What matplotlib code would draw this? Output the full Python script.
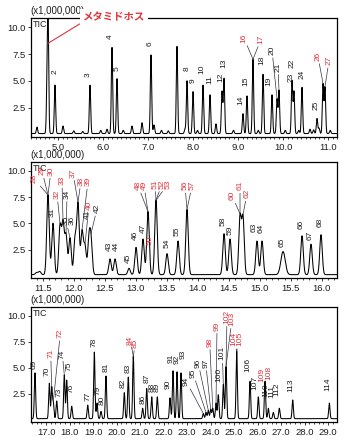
import numpy as np
import matplotlib
matplotlib.use("Agg")
import matplotlib.pyplot as plt
from matplotlib.ticker import MultipleLocator, FormatStrFormatter

plt.rcParams['font.family'] = ['Liberation Sans', 'DejaVu Sans']

# ---------------- data: panel 1 (retention time [min], height [x1,000,000]) -------------
rt1 = [4.533, 4.756, 4.778, 4.933, 5.111, 5.35, 5.55, 5.711, 5.95, 6.089, 6.2, 6.311, 6.45,
       6.644, 6.867, 7.067, 7.133, 7.3, 7.45, 7.644, 7.822, 7.867, 8.0, 8.1, 8.222, 8.378,
       8.511, 8.644, 8.689, 8.9, 9.111, 9.2, 9.333, 9.45, 9.556, 9.756, 9.867, 9.911, 10.05,
       10.2, 10.244, 10.35, 10.422, 10.6, 10.68, 10.756, 10.8, 10.889, 10.933, 11.05]
h1 = [0.6, 3.5, 10.9, 4.5, 0.7, 0.25, 0.2, 4.5, 0.3, 0.4, 8.0, 5.1, 0.3,
      0.7, 1.0, 7.3, 0.8, 0.3, 0.25, 8.1, 0.4, 4.9, 3.9, 0.3, 4.5, 3.6,
      0.9, 3.9, 5.1, 0.3, 1.85, 3.5, 6.9, 0.3, 5.5, 3.6, 3.2, 4.0, 0.3,
      4.9, 3.9, 0.3, 4.3, 0.4, 0.35, 1.4, 0.5, 4.6, 4.3, 0.3]
sig1 = 0.015

lab1 = ["2", "3", "4", "5", "6", "8", "9", "10", "11", "12", "13", "14", "15", "16", "17",
        "18", "19", "20", "21", "22", "23", "24", "25", "26", "27"]
lab1_rt = [4.933, 5.711, 6.2, 6.311, 7.067, 7.867, 8.0, 8.222, 8.378, 8.644, 8.689, 9.111,
           9.2, 9.333, 9.333, 9.556, 9.756, 9.867, 9.911, 10.2, 10.244, 10.422, 10.756,
           10.889, 10.933]
red1 = {"16", "17", "26", "27"}

# ---------------- data: panel 2 ----------------
rt2 = [11.40, 11.45, 11.584, 11.665, 11.778, 11.826, 11.875, 11.939, 12.020, 12.068, 12.133,
       12.181, 12.245, 12.278, 12.584, 12.665, 12.891, 13.004, 13.116, 13.197, 13.326,
       13.504, 13.681, 13.826, 14.423, 14.520, 14.681, 14.729, 14.955, 15.036, 15.375,
       15.681, 15.826, 15.987]
h2 = [0.2, 0.3, 7.6, 4.9, 4.6, 4.8, 3.7, 3.5, 3.4, 6.7, 4.1,
      2.7, 3.2, 3.1, 1.5, 1.5, 0.6, 2.6, 3.4, 6.0, 7.1,
      2.0, 3.2, 6.2, 3.9, 3.4, 5.5, 5.4, 3.2, 3.2, 2.2,
      3.7, 2.9, 3.8]
sig2 = [0.02] * 30 + [0.035, 0.02, 0.02, 0.02]

lab2 = [str(n) for n in range(28, 69)]
lab2_rt = [11.584, 11.584, 11.584, 11.665, 11.778, 11.826, 11.875, 11.939, 12.020, 12.068,
           12.068, 12.133, 12.181, 12.245, 12.278, 12.584, 12.665, 12.891, 13.004, 13.116,
           13.197, 13.197, 13.197, 13.326, 13.326, 13.326, 13.504, 13.681, 13.826, 13.826,
           14.423, 14.520, 14.681, 14.681, 14.729, 14.955, 15.036, 15.375, 15.681, 15.826,
           15.987]
red2 = {"28", "29", "30", "32", "33", "37", "38", "39", "40", "48", "49", "50", "51", "52",
        "53", "56", "57", "60", "61", "62"}

# ---------------- data: panel 3 ----------------
rt3 = [16.530, 17.139, 17.241, 17.309, 17.454, 17.777, 17.879, 18.092, 18.773, 19.054,
       19.169, 19.339, 19.551, 20.330, 20.500, 20.713, 21.111, 21.283, 21.496, 21.734,
       22.275, 22.403, 22.573, 22.743, 23.692, 23.807, 23.904, 24.006, 24.092, 24.232,
       24.330, 24.543, 24.658, 25.113, 25.679, 26.033, 26.317, 26.458, 26.671, 26.926,
       27.496, 29.053]
h3 = [4.4, 3.4, 3.0, 1.5, 1.7, 4.2, 3.7, 1.2, 1.3, 6.4,
      1.5, 0.7, 4.1, 2.5, 4.0, 6.0, 1.0, 2.9, 2.1, 2.1,
      2.0, 4.6, 4.5, 4.4, 0.5, 0.6, 0.8, 0.9, 1.0, 1.5,
      2.3, 3.3, 5.0, 6.5, 3.6, 2.1, 3.6, 1.0, 0.6, 1.0,
      1.8, 1.5]
sig3 = 0.028

lab3 = [str(n) for n in range(69, 115)]
lab3_rt = [16.530, 17.139, 17.241, 17.309, 17.454, 17.777, 17.879, 18.092, 18.773, 19.054,
           19.169, 19.339, 19.551, 20.330, 20.500, 20.713, 20.713, 21.111, 21.283, 21.496,
           21.734, 22.275, 22.403, 22.573, 22.743, 23.692, 23.807, 23.904, 24.006, 24.092,
           24.232, 24.330, 24.543, 24.658, 24.658, 25.113, 25.113, 25.679, 26.033, 26.317,
           26.317, 26.458, 26.671, 26.926, 27.496, 29.053]
red3 = {"71", "72", "84", "85", "98", "99", "102", "103", "104", "105", "108", "109"}

compound_name = "メタミドホス"
compound_rt = 4.778

# ---------------- annotation layout (pixel offsets of label centre from peak top) ---------
off1 = [(0, 13), (-2, 10), (-2, 11), (0, 10), (-1, 11), (0, 12), (0, 11), (-1, 16), (0, 15),
        (-1, 14), (0, 15), (-2, 13), (-1, 15), (-9, 21), (8, 20), (-1, 14), (-3, 13),
        (-5, 48), (-1, 23), (0, 17), (-3, 13), (0, 13), (-1, 13), (-5, 27), (4, 26)]
lead1 = {"16", "17", "20", "21", "26", "27"}

off2 = [(-14, 16), (-6, 24), (3, 24), (-1, 11), (-3, 29), (-1, 39), (1, 39), (-4, 17),
        (-3, 15), (-5, 29), (3, 21), (6, 48), (4, 38), (-2, 18), (6, 25), (-1, 13), (1, 13),
        (-1, 10), (-1, 12), (0, 11), (-10, 26), (-4, 26), (2, -29), (-1, 16), (6, 16),
        (12, 16), (0, 10), (-1, 10), (-2, 24), (5, 24), (-1, 12), (0, 9), (-8, 18), (0, 28),
        (4, 21), (-3, 14), (-1, 13), (-1, 9), (-1, 11), (-1, 9), (-1, 12)]
lead2 = {"28", "29", "30", "32", "33", "34", "35", "37", "38", "39", "40", "42", "48", "49",
         "51", "52", "53", "56", "57", "60", "61", "62"}

off3 = [(-1, 9), (-2, 12), (-1, 33), (7, 68), (2, 9), (-2, 21), (2, 14), (-1, 18), (0, 9),
        (0, 10), (1, 13), (1, 11), (0, 9), (-1, 9), (0, 9), (-3, 16), (2, 13), (0, 9),
        (0, 10), (0, 9), (0, 9), (-2, 14), (-2, 12), (0, 12), (2, 19), (-17, 32), (-13, 39),
        (-10, 47), (-5, 46), (-3, 66), (1, 77), (1, 20), (-1, 31), (1, 50), (6, 48), (-3, 12),
        (3, 12), (-2, 16), (-3, 14), (4, 8), (-3, 6), (-2, 18), (-1, 21), (-2, 19), (-2, 15),
        (-1, 19)]
lead3 = {"71", "72", "74", "84", "85", "94", "95", "96", "97", "98", "99", "101", "102",
         "103", "104", "105"}

RED = "#e2323c"
TXT = "#1e1e1e"
W, H = 350, 443

fig = plt.figure(figsize=(W / 100, H / 100), dpi=100)
fig.patch.set_facecolor("white")


def trace(t, rts, hs, sig):
    sig = np.broadcast_to(np.asarray(sig, float), (len(rts),))
    y = np.full_like(t, 0.12)
    for r, h, s in zip(rts, hs, sig):
        y += h * np.exp(-0.5 * ((t - r) / s) ** 2)
    return y


def make_panel(top_px, bot_px, xlim, major, minor, rts, hs, sig, labs, lab_rt, offs, reds, leads):
    ax = fig.add_axes([31 / W, (H - bot_px) / H, 306 / W, (bot_px - top_px) / H])
    t = np.linspace(xlim[0], xlim[1], 12000)
    y = trace(t, rts, hs, sig)
    ax.plot(t, y, color="black", lw=0.75)
    ax.set_xlim(*xlim)
    ax.set_ylim(-0.2, 10.85)
    ax.xaxis.set_major_locator(MultipleLocator(major))
    ax.xaxis.set_minor_locator(MultipleLocator(minor))
    ax.xaxis.set_major_formatter(FormatStrFormatter("%.1f"))
    ax.set_yticks([2.5, 5.0, 7.5, 10.0])
    ax.yaxis.set_major_formatter(FormatStrFormatter("%.1f"))
    ax.tick_params(axis="both", which="major", labelsize=6.8, length=2.5, width=0.6,
                   pad=1.5, colors=TXT, direction="out")
    ax.tick_params(axis="x", which="minor", length=1.5, width=0.5, direction="out")
    for s in ax.spines.values():
        s.set_linewidth(0.9)
    ax.text(0.006, 0.985, "TIC", transform=ax.transAxes, fontsize=6.5, va="top", ha="left",
            color=TXT)
    fig.text(30 / W, 1 - (top_px - 7) / H, "(x1,000,000)", fontsize=7, ha="left",
             va="center", color=TXT, zorder=-1)
    for txt, r, (dx, dy) in zip(labs, lab_rt, offs):
        i = int(np.argmin(np.abs(t - r)))
        col = RED if txt in reds else TXT
        ap = None
        if txt in leads:
            ap = dict(arrowstyle="-", lw=0.5, color="#333344", shrinkA=0, shrinkB=0)
        ax.annotate(txt, xy=(t[i], y[i]), xytext=(dx, dy), textcoords="offset pixels",
                    rotation=90, ha="center", va="center", fontsize=6.0, color=col,
                    arrowprops=ap, annotation_clip=False)
    return ax, t, y


ax1, t1, y1 = make_panel(18, 137, (4.4, 11.2), 1.0, 0.1, rt1, h1, sig1, lab1, lab1_rt, off1,
                         red1, lead1)
ax2, t2, y2 = make_panel(162, 278, (11.31, 16.245), 0.5, 0.1, rt2, h2, sig2, lab2, lab2_rt,
                         off2, red2, lead2)
ax3, t3, y3 = make_panel(307, 422, (16.36, 29.38), 1.0, 0.2, rt3, h3, sig3, lab3, lab3_rt,
                         off3, red3, lead3)

# compound call-out on panel 1
ax1.annotate(compound_name, xy=(compound_rt, 8.5), xytext=(114, H - 17),
             textcoords="figure pixels", ha="center", va="center", fontsize=7.5,
             fontweight="bold", color=RED, family=["Noto Sans CJK JP", "DejaVu Sans"],
             bbox=dict(boxstyle="square,pad=0.3", fc="white", ec="none"),
             arrowprops=dict(arrowstyle="-", lw=0.8, color=RED, shrinkA=0, shrinkB=0,
                             relpos=(0.0, 0.0)),
             annotation_clip=False, zorder=10)

fig.savefig("out.png", dpi=100, facecolor="white")
